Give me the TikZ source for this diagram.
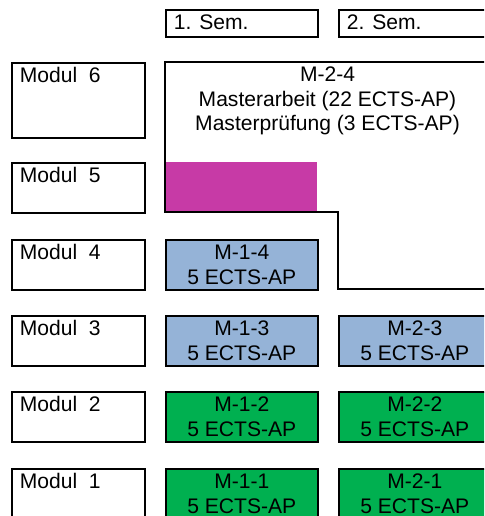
\documentclass[tikz,border=0pt]{standalone}
\usepackage{fontspec}
\setmainfont{Liberation Sans}
\definecolor{ectsgreen}{HTML}{00B050}
\definecolor{ectsblue}{HTML}{95B3D7}
\definecolor{thesispink}{RGB}{199,58,166}
\tikzset{
  frame/.style={draw=black,line width=1.15pt},
  modbox/.style={frame,anchor=north west,minimum width=99.75pt,minimum height=37.5pt,inner sep=0pt},
  ectsbox/.style={modbox,minimum width=114pt,align=center},
  boxtext/.style={anchor=base west,inner sep=0pt,xshift=6.5pt,yshift=-15.2pt}
}

\begin{document}
\begin{tikzpicture}[x=0.75pt,y=-0.75pt,font=\fontsize{15.8}{18.2}\selectfont]
    \useasboundingbox (0,0) rectangle (484,516);
    \clip (0,0) rectangle (484,516); % page is cut at right and bottom
    % semester heads
    \node[modbox,minimum width=114pt,minimum height=20pt] (sem1) at (165,9.5) {};
    \node[modbox,minimum width=114pt,minimum height=20pt] (sem2) at (338,9.5) {};
    \node[boxtext] (semt1) at (sem1.north west) {1. Sem.};
    \node[boxtext] (semt2) at (sem2.north west) {2. Sem.};
    % module column
    \foreach \r/\top in {1/468,2/391,3/315,4/239,5/162}{
      \node[modbox] (mod\r) at (11,\top) {};
      \node[boxtext] (modt\r) at (mod\r.north west) {Modul\ \ \r};
    }
    \node[modbox,minimum height=56.25pt] (mod6) at (11,62) {};
    \node[boxtext] (modt6) at (mod6.north west) {Modul\ \ 6};
    % first and second semester
    \foreach \r/\top/\col in {1/468/ectsgreen,2/391/ectsgreen,3/315/ectsblue,4/239/ectsblue}{
      \node[ectsbox,fill=\col] (m1\r) at (165,\top) {M-1-\r\\5 ECTS-AP};
    }
    \foreach \r/\top/\col in {1/468/ectsgreen,2/391/ectsgreen,3/315/ectsblue}{
      \node[ectsbox,fill=\col] (m2\r) at (338,\top) {M-2-\r\\5 ECTS-AP};
    }
    % thesis block
    \fill[thesispink] (165,162) rectangle (317,212);
    \draw[frame] (165,212) -- (165,62) -- (490,62) -- (490,289)
      -- (338,289) -- (338,212) -- cycle;
    \node[anchor=north,align=center,inner sep=0pt] (m24) at (327.5,67)
      {M-2-4\\Masterarbeit (22 ECTS-AP)\\Masterprüfung (3 ECTS-AP)};
\end{tikzpicture}
\end{document}
